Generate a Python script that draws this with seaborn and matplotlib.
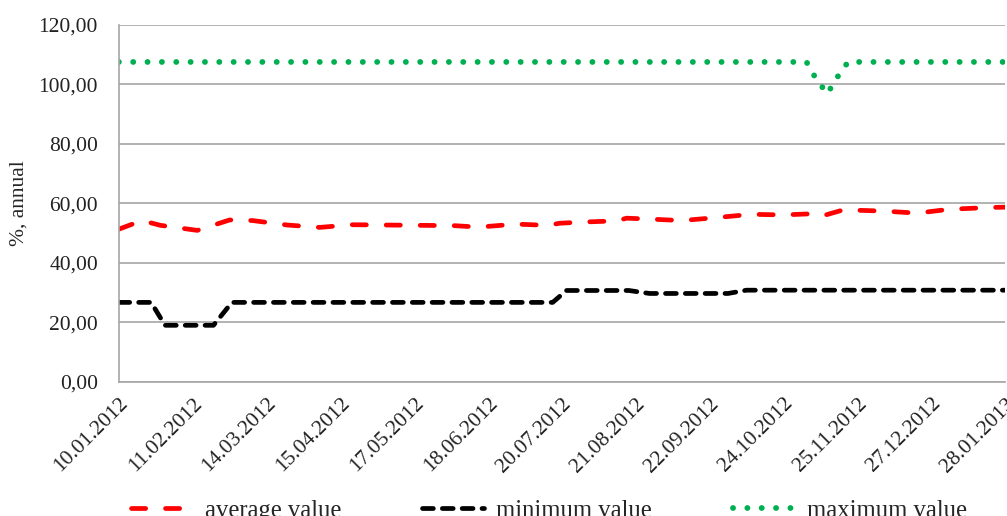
import pandas as pd
import numpy as np
import matplotlib
matplotlib.use('Agg')
import matplotlib.pyplot as plt
import seaborn as sns

# ── Data ───────────────────────────────────────────────────
avg_dates = ['10.01.2012', '20.01.2012', '28.01.2012', '13.02.2012', '27.02.2012',
             '08.03.2012', '23.03.2012', '06.04.2012', '20.04.2012', '19.05.2012',
             '03.06.2012', '14.06.2012', '30.06.2012', '14.07.2012', '19.07.2012',
             '29.07.2012', '13.08.2012', '17.08.2012', '27.08.2012', '10.09.2012',
             '25.09.2012', '10.10.2012', '24.10.2012', '06.11.2012', '10.11.2012',
             '19.11.2012', '06.12.2012', '21.12.2012', '04.01.2013', '22.01.2013',
             '28.01.2013']
avg_values = [51.3, 54.2, 52.6, 50.9, 54.4, 54.2, 52.7, 51.9, 52.8, 52.6,
              52.5, 52.0, 53.0, 52.6, 53.3, 53.7, 54.1, 55.0, 54.7, 54.2,
              55.2, 56.3, 56.1, 56.5, 55.8, 57.8, 57.4, 56.7, 58.0, 58.6, 58.7]

min_dates = ['10.01.2012', '24.01.2012', '30.01.2012', '20.02.2012', '28.02.2012',
             '16.07.2012', '22.07.2012', '18.08.2012', '27.08.2012', '30.09.2012',
             '08.10.2012', '28.01.2013']
min_values = [26.7, 26.7, 19.0, 19.0, 26.7, 26.7, 30.7, 30.7, 29.7, 29.7, 30.8, 30.8]

max_dates = ['10.01.2012', '03.11.2012', '07.11.2012', '12.11.2012', '16.11.2012',
             '21.11.2012', '28.01.2013']
max_values = [107.5, 107.5, 102.0, 96.8, 102.0, 107.5, 107.5]

tick_dates = ['10.01.2012', '11.02.2012', '14.03.2012', '15.04.2012', '17.05.2012',
              '18.06.2012', '20.07.2012', '21.08.2012', '22.09.2012', '24.10.2012',
              '25.11.2012', '27.12.2012', '28.01.2013']
y_ticks = [0, 20, 40, 60, 80, 100, 120]
y_labels = ['0,00', '20,00', '40,00', '60,00', '80,00', '100,00', '120,00']

series_names = ['average value', 'minimum value', 'maximum value']

# ── Build frames ───────────────────────────────────────────
def to_df(dates, values):
    return pd.DataFrame({'date': pd.to_datetime(dates, format='%d.%m.%Y'), 'value': values})

df_avg = to_df(avg_dates, avg_values)
df_min = to_df(min_dates, min_values)
df_max = to_df(max_dates, max_values)

# ── Plot ───────────────────────────────────────────────────
sns.set_style('white')
plt.rcParams['font.family'] = ['Liberation Serif', 'DejaVu Serif']

fig = plt.figure(figsize=(10.07, 5.16), dpi=100)
ax = fig.add_axes([0.118, 0.26, 0.880, 0.692])

sns.lineplot(data=df_avg, x='date', y='value', ax=ax, color='#FF0000', lw=3.4,
             linestyle=(0, (3.0, 4.2)), dash_capstyle='round', label=series_names[0])
sns.lineplot(data=df_min, x='date', y='value', ax=ax, color='black', lw=3.4,
             linestyle=(0, (2.3, 1.9)), dash_capstyle='round', label=series_names[1])
sns.lineplot(data=df_max, x='date', y='value', ax=ax, color='#00B050', lw=4.2,
             linestyle=(0, (0.01, 2.45)), dash_capstyle='round', label=series_names[2])

ticks = pd.to_datetime(tick_dates, format='%d.%m.%Y')
ax.set_xlim(ticks[0], ticks[-1])
ax.set_ylim(0, 120)
ax.set_xticks(ticks)
ax.set_xticklabels(tick_dates, rotation=45, ha='right', va='top',
                   rotation_mode='anchor', fontsize=15.5)
ax.set_yticks(y_ticks)
ax.set_yticklabels(y_labels, fontsize=15.5)
ax.set_xlabel('')
ax.set_ylabel('%, annual', fontsize=15.5, labelpad=7)

grid_col = '#A6A6A6'
ax.yaxis.grid(True, color=grid_col, lw=1.2)
ax.xaxis.grid(False)
for side in ['top', 'right']:
    ax.spines[side].set_visible(False)
for side in ['left', 'bottom']:
    ax.spines[side].set_color(grid_col)
    ax.spines[side].set_linewidth(1.2)
ax.tick_params(axis='both', direction='out', length=5, width=1.2, color=grid_col,
               labelcolor='#222222')
ax.tick_params(axis='y', pad=10)
ax.tick_params(axis='x', pad=4)

ax.get_legend().remove()
handles, labels = ax.get_legend_handles_labels()
fig.legend(handles, labels, loc='center', bbox_to_anchor=(0.545, 0.01), ncol=3,
           frameon=False, fontsize=17.7, handlelength=2.5, handletextpad=0.5,
           columnspacing=3.3)

plt.savefig('out.png', dpi=100)
